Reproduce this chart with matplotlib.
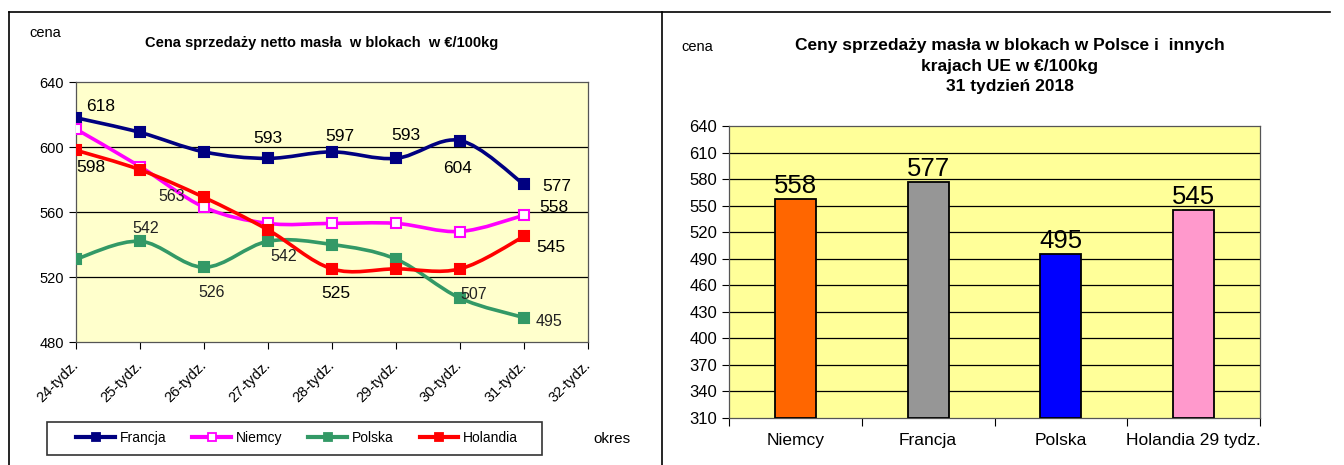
import matplotlib
matplotlib.use("Agg")
import matplotlib.pyplot as plt
from matplotlib.path import Path
from matplotlib.patches import PathPatch, Rectangle
from matplotlib.lines import Line2D
import numpy as np

plt.rcParams['font.family'] = ['Liberation Sans', 'DejaVu Sans']

# ---------------- data ----------------
weeks = ["24-tydz.", "25-tydz.", "26-tydz.", "27-tydz.", "28-tydz.",
         "29-tydz.", "30-tydz.", "31-tydz.", "32-tydz."]
francja = [618, 609, 597, 593, 597, 593, 604, 577]
niemcy = [611, 588, 563, 553, 553, 553, 548, 558]
polska = [531, 542, 526, 542, 540, 531, 507, 495]
holandia = [598, 586, 569, 549, 525, 525, 525, 545]

bar_countries = ["Niemcy", "Francja", "Polska", "Holandia 29 tydz."]
bar_values = [558, 577, 495, 545]

left_title = "Cena sprzedaży netto masła  w blokach  w €/100kg"
right_title = "Ceny sprzedaży masła w blokach w Polsce i  innych\nkrajach UE w €/100kg\n31 tydzień 2018"

# labels: (series, index, offset px, ha, bold)
labels = [
    ("F", 0, (10, 11), 'left', True),
    ("F", 3, (0, 20), 'center', True),
    ("F", 4, (8, 15), 'center', True),
    ("F", 5, (10, 23), 'center', True),
    ("F", 6, (-2, -28), 'center', True),
    ("F", 7, (18, -2), 'left', True),
    ("N", 2, (-32, 11), 'center', False),
    ("N", 7, (15, 8), 'left', True),
    ("P", 1, (6, 13), 'center', False),
    ("P", 2, (8, -25), 'center', False),
    ("P", 3, (16, -15), 'center', False),
    ("P", 6, (0, 4), 'left', False),
    ("P", 7, (12, -4), 'left', False),
    ("H", 0, (0, -17), 'left', True),
    ("H", 4, (4, -25), 'center', True),
    ("H", 7, (12, -11), 'left', True),
]

series = {
    "F": (francja, "Francja", "#000080", "s", "#000080"),
    "N": (niemcy, "Niemcy", "#FF00FF", "s", "white"),
    "P": (polska, "Polska", "#339966", "s", "#339966"),
    "H": (holandia, "Holandia", "#FF0000", "s", "#FF0000"),
}
order = ["F", "N", "P", "H"]

fig = plt.figure(figsize=(13.44, 4.65), dpi=100)


def smooth_path(x, y, t=1.0 / 6):
    x = np.asarray(x, float)
    y = np.asarray(y, float)
    n = len(x)
    verts = [(x[0], y[0])]
    codes = [Path.MOVETO]
    for i in range(n - 1):
        x0, y0 = (x[i - 1], y[i - 1]) if i > 0 else (x[i], y[i])
        x3, y3 = (x[i + 2], y[i + 2]) if i + 2 < n else (x[i + 1], y[i + 1])
        c1 = (x[i] + (x[i + 1] - x0) * t, y[i] + (y[i + 1] - y0) * t)
        c2 = (x[i + 1] - (x3 - x[i]) * t, y[i + 1] - (y3 - y[i]) * t)
        verts += [c1, c2, (x[i + 1], y[i + 1])]
        codes += [Path.CURVE4] * 3
    return Path(verts, codes)


# ---------------- left chart ----------------
axL = fig.add_axes([76 / 1344, 1 - 342 / 465, 512 / 1344, 260 / 465])
axL.set_facecolor("#FFFFCC")
axL.set_xlim(0, 8)
axL.set_ylim(480, 640)
axL.set_yticks([480, 520, 560, 600, 640])
for v in [520, 560, 600]:
    axL.axhline(v, color="black", lw=0.9, zorder=1)
axL.set_xticks(range(len(weeks)))
axL.set_xticklabels(weeks, rotation=45, ha="right", va="center",
                    rotation_mode="anchor", fontsize=10.5)
axL.tick_params(axis="both", length=5, width=0.8, labelsize=10.5)
axL.tick_params(axis="x", pad=10)
for s in axL.spines.values():
    s.set_color("#555555")
    s.set_linewidth(0.9)

xs = np.arange(8)
for key in order:
    vals, name, col, mk, face = series[key]
    axL.add_patch(PathPatch(smooth_path(xs, vals), facecolor="none", edgecolor=col,
                            lw=2.6, zorder=3, transform=axL.transData))
    axL.plot(xs, vals, ls="none", marker=mk, ms=7, mfc=face, mec=col, mew=1.5, zorder=4)

for key, i, off, ha, bold in labels:
    vals = series[key][0]
    axL.annotate(str(vals[i]), (i, vals[i]), xytext=off, textcoords="offset pixels",
                 ha=ha, va="center", fontsize=12.5 if bold else 11.5,
                 color="black" if bold else "#222222", zorder=5)

fig.text(45 / 1344, 1 - 33 / 465, "cena", fontsize=10.5, ha="center", va="center")
fig.text(322 / 1344, 1 - 43 / 465, left_title, fontsize=10.5, fontweight="bold",
         ha="center", va="center")
fig.text(612 / 1344, 1 - 439 / 465, "okres", fontsize=11, ha="center", va="center")

fig.add_artist(Rectangle((47 / 1344, 1 - 455 / 465), 495 / 1344, 33 / 465,
                         transform=fig.transFigure, facecolor="white",
                         edgecolor="#333333", lw=1.2, zorder=0))
handles = [Line2D([0], [0], color=series[k][2], lw=3, marker="s", ms=5.5,
                  mfc=series[k][4], mec=series[k][2], mew=1.3) for k in order]
leg = fig.legend(handles, [series[k][1] for k in order], ncol=4,
                 loc="center", bbox_to_anchor=(297 / 1344, 1 - 438 / 465),
                 frameon=False, fontsize=10,
                 handlelength=2.8, columnspacing=1.9, borderpad=0.3, handletextpad=0.3)

# ---------------- right chart ----------------
axR = fig.add_axes([729 / 1344, 1 - 418 / 465, 531 / 1344, 292 / 465])
axR.set_facecolor("#FFFF99")
axR.set_xlim(0, 4)
axR.set_ylim(310, 640)
yt = list(range(310, 641, 30))
axR.set_yticks(yt)
for v in yt[1:-1]:
    axR.axhline(v, color="black", lw=0.9, zorder=1)
axR.set_xticks([0, 1, 2, 3, 4])
axR.set_xticklabels([])
axR.set_xticks([0.5, 1.5, 2.5, 3.5], minor=True)
axR.set_xticklabels(bar_countries, minor=True, fontsize=12.5)
axR.tick_params(axis="x", which="minor", length=0, pad=11)
axR.tick_params(axis="x", which="major", length=6, width=0.8)
axR.tick_params(axis="y", length=5, width=0.8, labelsize=12)
for s in axR.spines.values():
    s.set_color("#555555")
    s.set_linewidth(0.9)

bar_colors = ["#FF6600", "#969696", "#0000FF", "#FF99CC"]
bars = axR.bar(np.arange(4) + 0.5, np.array(bar_values) - 310, bottom=310, width=0.31,
               color=bar_colors, edgecolor="black", linewidth=1.3, zorder=3)
for i, v in enumerate(bar_values):
    axR.annotate(str(v), (i + 0.5, v), xytext=(0, 1), textcoords="offset pixels",
                 ha="center", va="bottom", fontsize=18.5, zorder=5)

fig.text(697 / 1344, 1 - 47 / 465, "cena", fontsize=10.5, ha="center", va="center")
fig.text(1010 / 1344, 1 - 66 / 465, right_title, fontsize=12.5, fontweight="bold",
         ha="center", va="center", linespacing=1.45)

# ---------------- frames ----------------
fig.add_artist(Line2D([9 / 1344, 1330 / 1344], [1 - 12 / 465, 1 - 12 / 465],
                      color="black", lw=1.2, transform=fig.transFigure))
fig.add_artist(Line2D([9 / 1344, 9 / 1344], [0, 1 - 12 / 465],
                      color="black", lw=1.2, transform=fig.transFigure))
fig.add_artist(Line2D([662 / 1344, 662 / 1344], [0, 1 - 12 / 465],
                      color="black", lw=1.2, transform=fig.transFigure))

fig.savefig("out.png", dpi=100)
